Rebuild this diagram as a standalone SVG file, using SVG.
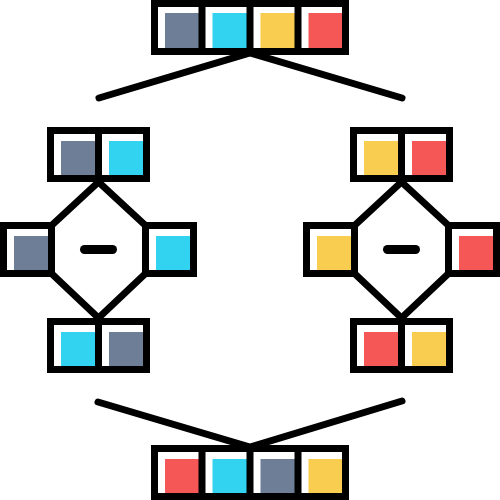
<svg xmlns="http://www.w3.org/2000/svg" width="500" height="500" viewBox="0 0 500 500">
<style>
.box{fill:#fff;stroke:#000;stroke-width:7}
.div{stroke:#000;stroke-width:7}
.ln{fill:none;stroke:#000;stroke-width:7;stroke-linecap:round;stroke-linejoin:miter}
.minus{stroke:#000;stroke-width:9;stroke-linecap:round}
.g{fill:#6F7E97}.c{fill:#31D3F0}.y{fill:#F8CD50}.r{fill:#F55757}
</style>
<rect width="500" height="500" fill="#fff"/>
<g id="connectors">
<polyline class="ln" points="99,98 250,53 402,98"/>
<polyline class="ln" points="98,402 250,447 402,401"/>
<path class="ln" d="M51.5,225.5 L98.5,182 L145.5,225.5 M51.5,273.5 L98.5,318 L145.5,273.5"/>
<path class="ln" d="M354.5,225.5 L401.5,182 L448.5,225.5 M354.5,273.5 L401.5,318 L448.5,273.5"/>
</g>
<g id="top-array">
<rect class="box" x="154.5" y="3.5" width="191" height="48"/>
<rect class="g" x="165" y="13" width="37" height="40"/>
<rect class="c" x="212.5" y="13" width="37" height="40"/>
<rect class="y" x="260.5" y="13" width="37" height="40"/>
<rect class="r" x="308.5" y="13" width="37" height="40"/>
<rect fill="none" stroke="#000" stroke-width="7" x="154.5" y="3.5" width="191" height="48"/>
<line class="div" x1="202" y1="3.5" x2="202" y2="51.5"/>
<line class="div" x1="250" y1="3.5" x2="250" y2="51.5"/>
<line class="div" x1="298" y1="3.5" x2="298" y2="51.5"/>
</g>
<g id="left-pair-top">
<rect class="box" x="50.5" y="130.5" width="96" height="48"/>
<rect class="g" x="61" y="141" width="37" height="40"/>
<rect class="c" x="109" y="141" width="37" height="40"/>
<rect fill="none" stroke="#000" stroke-width="7" x="50.5" y="130.5" width="96" height="48"/>
<line class="div" x1="98.5" y1="130.5" x2="98.5" y2="178.5"/>
</g>
<g id="left-single-a">
<rect class="box" x="3.5" y="225.5" width="48" height="48"/>
<rect class="g" x="14" y="236" width="37" height="37"/>
<rect fill="none" stroke="#000" stroke-width="7" x="3.5" y="225.5" width="48" height="48"/>
</g>
<g id="left-single-b">
<rect class="box" x="145.5" y="225.5" width="48" height="48"/>
<rect class="c" x="156" y="236" width="37" height="37"/>
<rect fill="none" stroke="#000" stroke-width="7" x="145.5" y="225.5" width="48" height="48"/>
</g>
<g id="left-op"><line class="minus" x1="84.5" y1="249.5" x2="112.5" y2="249.5"/></g>
<g id="left-pair-bottom">
<rect class="box" x="50.5" y="321.5" width="96" height="48"/>
<rect class="c" x="61" y="332" width="37" height="40"/>
<rect class="g" x="109" y="332" width="37" height="40"/>
<rect fill="none" stroke="#000" stroke-width="7" x="50.5" y="321.5" width="96" height="48"/>
<line class="div" x1="98.5" y1="321.5" x2="98.5" y2="369.5"/>
</g>
<g id="right-pair-top">
<rect class="box" x="353.5" y="130.5" width="96" height="48"/>
<rect class="y" x="364" y="141" width="37" height="40"/>
<rect class="r" x="412" y="141" width="37" height="40"/>
<rect fill="none" stroke="#000" stroke-width="7" x="353.5" y="130.5" width="96" height="48"/>
<line class="div" x1="401.5" y1="130.5" x2="401.5" y2="178.5"/>
</g>
<g id="right-single-a">
<rect class="box" x="306.5" y="225.5" width="48" height="48"/>
<rect class="y" x="317" y="236" width="37" height="37"/>
<rect fill="none" stroke="#000" stroke-width="7" x="306.5" y="225.5" width="48" height="48"/>
</g>
<g id="right-single-b">
<rect class="box" x="448.5" y="225.5" width="48" height="48"/>
<rect class="r" x="459" y="236" width="37" height="37"/>
<rect fill="none" stroke="#000" stroke-width="7" x="448.5" y="225.5" width="48" height="48"/>
</g>
<g id="right-op"><line class="minus" x1="387.5" y1="249.5" x2="415.5" y2="249.5"/></g>
<g id="right-pair-bottom">
<rect class="box" x="353.5" y="321.5" width="96" height="48"/>
<rect class="r" x="364" y="332" width="37" height="40"/>
<rect class="y" x="412" y="332" width="37" height="40"/>
<rect fill="none" stroke="#000" stroke-width="7" x="353.5" y="321.5" width="96" height="48"/>
<line class="div" x1="401.5" y1="321.5" x2="401.5" y2="369.5"/>
</g>
<g id="bottom-array">
<rect class="box" x="154.5" y="448.5" width="191" height="48"/>
<rect class="r" x="165" y="459" width="37" height="40"/>
<rect class="c" x="212.5" y="459" width="37" height="40"/>
<rect class="g" x="260.5" y="459" width="37" height="40"/>
<rect class="y" x="308.5" y="459" width="37" height="40"/>
<rect fill="none" stroke="#000" stroke-width="7" x="154.5" y="448.5" width="191" height="48"/>
<line class="div" x1="202" y1="448.5" x2="202" y2="496.5"/>
<line class="div" x1="250" y1="448.5" x2="250" y2="496.5"/>
<line class="div" x1="298" y1="448.5" x2="298" y2="496.5"/>
</g>
</svg>
